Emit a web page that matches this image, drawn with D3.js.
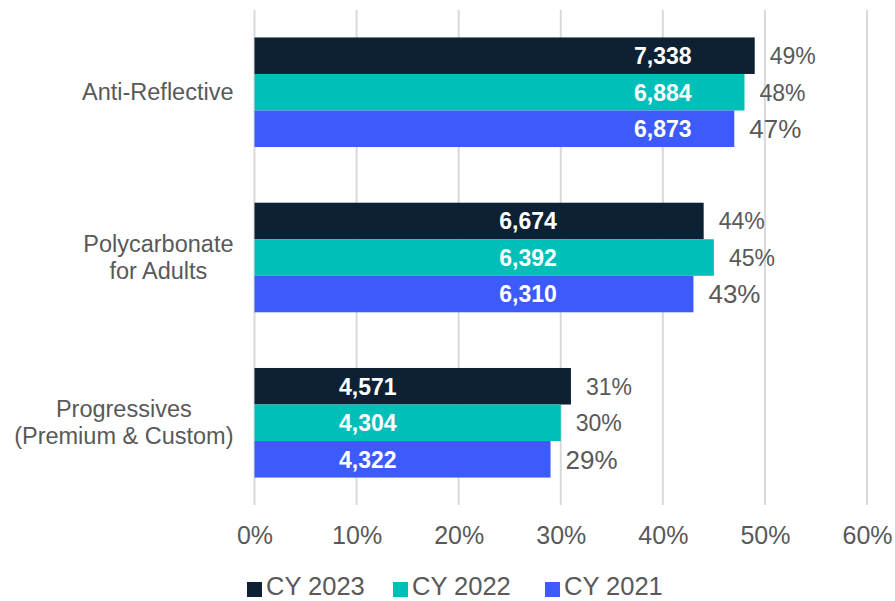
<!DOCTYPE html>
<html>
<head>
<meta charset="utf-8">
<script src="https://cdn.jsdelivr.net/npm/d3@7"></script>
<style>
  html, body { margin: 0; padding: 0; background: #ffffff; }
  svg { display: block; font-family: "Liberation Sans", Arial, Helvetica, sans-serif; }
</style>
</head>
<body>
<svg id="chart" width="895" height="601"></svg>
<script>
// Lens categories (label lines) and the three calendar-year series
const categories = ["Anti-Reflective", "Polycarbonate for Adults", "Progressives (Premium & Custom)"];
const categoryLines = [["Anti-Reflective"], ["Polycarbonate", "for Adults"], ["Progressives", "(Premium & Custom)"]];
const seriesNames = ["CY 2023", "CY 2022", "CY 2021"];

// Share of lenses (%) per category, one array per year
const share2023 = [49, 44, 31];
const share2022 = [48, 45, 30];
const share2021 = [47, 43, 29];

// Unit counts per category, one array per year
const count2023 = [7338, 6674, 4571];
const count2022 = [6884, 6392, 4304];
const count2021 = [6873, 6310, 4322];

const xTicks = [0, 10, 20, 30, 40, 50, 60];

const shares = [share2023, share2022, share2021];
const counts = [count2023, count2022, count2021];
const colors = ["#0e2134", "#00bfb9", "#3d5bfd"];
const textGrey = "#595959";

const svg = d3.select("#chart");

const x = d3.scaleLinear().domain([0, 60]).range([254.5, 867]);
const y0 = d3.scaleBand().domain(categories).range([9.6, 505.4])
  .paddingInner(0.337).paddingOuter(0.1685);
const y1 = d3.scaleBand().domain(seriesNames).range([0, y0.bandwidth()]).padding(0);

// Vertical gridlines, including the zero line
svg.append("g")
  .selectAll("line")
  .data(xTicks)
  .join("line")
  .attr("x1", d => x(d)).attr("x2", d => x(d))
  .attr("y1", 10).attr("y2", 505)
  .attr("stroke", "#d9d9d9")
  .attr("stroke-width", 2);

// Percentage axis along the bottom
const xAxis = d3.axisBottom(x).tickValues(xTicks).tickFormat(d => d + "%").tickSize(0).tickPadding(0);
const axisG = svg.append("g").attr("transform", "translate(0,505)").call(xAxis);
axisG.select(".domain").remove();
axisG.selectAll("text")
  .attr("y", 39)
  .attr("dy", 0)
  .attr("font-size", 25)
  .attr("font-family", "Liberation Sans, Arial, sans-serif")
  .attr("fill", textGrey);

// Bars
const rows = [];
categories.forEach((c, ci) => {
  seriesNames.forEach((s, si) => {
    rows.push({ cat: c, ci, series: s, si, share: shares[si][ci], count: counts[si][ci] });
  });
});

const groups = svg.append("g")
  .selectAll("g")
  .data(categories)
  .join("g")
  .attr("transform", d => `translate(0,${y0(d)})`);

groups.selectAll("rect")
  .data(c => rows.filter(r => r.cat === c))
  .join("rect")
  .attr("x", x(0))
  .attr("y", d => y1(d.series))
  .attr("width", d => x(d.share) - x(0))
  .attr("height", y1.bandwidth())
  .attr("fill", d => colors[d.si]);

// Percentage labels just past each bar end
groups.selectAll("text.pct")
  .data(c => rows.filter(r => r.cat === c))
  .join("text")
  .attr("class", "pct")
  .attr("x", d => x(d.share) + 15)
  .attr("y", d => y1(d.series) + y1.bandwidth() / 2)
  .attr("dy", "0.36em")
  .attr("font-size", d => d.si === 2 ? 26 : 23)
  .attr("fill", textGrey)
  .text(d => d.share + "%");

// Count labels inside the bars, centred on a common point per category (axis units)
const countLabelCentre = [40, 26.8, 11.1];
groups.selectAll("text.cnt")
  .data(c => rows.filter(r => r.cat === c))
  .join("text")
  .attr("class", "cnt")
  .attr("x", d => x(countLabelCentre[d.ci]))
  .attr("y", d => y1(d.series) + y1.bandwidth() / 2)
  .attr("dy", "0.36em")
  .attr("text-anchor", "middle")
  .attr("font-size", 23)
  .attr("font-weight", "bold")
  .attr("fill", "#ffffff")
  .text(d => d3.format(",")(d.count));

// Category labels: block right-aligned next to the axis, lines centred in the block
const labelRight = x(0) - 21;
const lineGap = 27;
categories.forEach((c, ci) => {
  const lines = categoryLines[ci];
  const cy = y0(c) + y0.bandwidth() / 2;
  const g = svg.append("g");
  const texts = lines.map((ln, li) => g.append("text")
    .attr("y", cy + (li - (lines.length - 1) / 2) * lineGap)
    .attr("dy", "0.35em")
    .attr("font-size", 23.5)
    .attr("fill", textGrey)
    .attr("text-anchor", "middle")
    .text(ln));
  const w = d3.max(texts, t => t.node().getComputedTextLength());
  texts.forEach(t => t.attr("x", labelRight - w / 2));
});

// Legend
const legendX = [247, 393, 545];
const legend = svg.append("g");
seriesNames.forEach((s, si) => {
  legend.append("rect")
    .attr("x", legendX[si]).attr("y", 582)
    .attr("width", 15).attr("height", 15)
    .attr("fill", colors[si]);
  legend.append("text")
    .attr("x", legendX[si] + 19).attr("y", 595)
    .attr("font-size", 25.5)
    .attr("fill", textGrey)
    .text(s);
});
</script>
</body>
</html>
